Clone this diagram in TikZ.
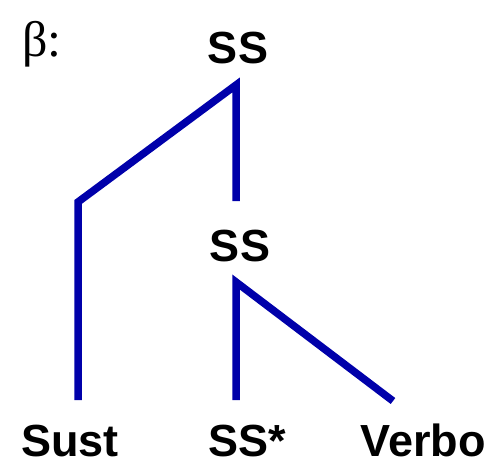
\documentclass[tikz,border=0pt]{standalone}
\usepackage{fontspec}
\setmainfont{Liberation Sans}
\newfontfamily\seriffont{Liberation Serif}
\definecolor{treeblue}{RGB}{0,0,170}
\begin{document}
\begin{tikzpicture}[x=1pt,y=-1pt,
  lbl/.style={font=\fontsize{45}{48}\selectfont\bfseries, anchor=base, inner sep=0pt},
  branch/.style={draw=treeblue, line width=7.5pt, line join=miter}]
\useasboundingbox (0,0) rectangle (491,464);
\node[anchor=base west, inner sep=0pt, font=\seriffont\fontsize{50}{54}\selectfont] (beta) at (22,56) {β:};
\node[lbl] (top) at (238,63) {SS};
\node[lbl] (mid) at (240,261) {SS};
\node[lbl] (sust) at (70,456) {Sust};
\node[lbl] (foot) at (247,456) {SS*};
\node[lbl] (verbo) at (423,456) {Verbo};
\coordinate (v1) at (236,85);
\coordinate (v1b) at (236,201);
\coordinate (lk) at (78,202);
\coordinate (le) at (78,400);
\coordinate (v2) at (236,282);
\coordinate (v2b) at (236,400);
\coordinate (re) at (393,401);
\draw[branch] (v1b) -- (v1) -- (lk) -- (le);
\draw[branch] (v2b) -- (v2) -- (re);
\end{tikzpicture}
\end{document}
